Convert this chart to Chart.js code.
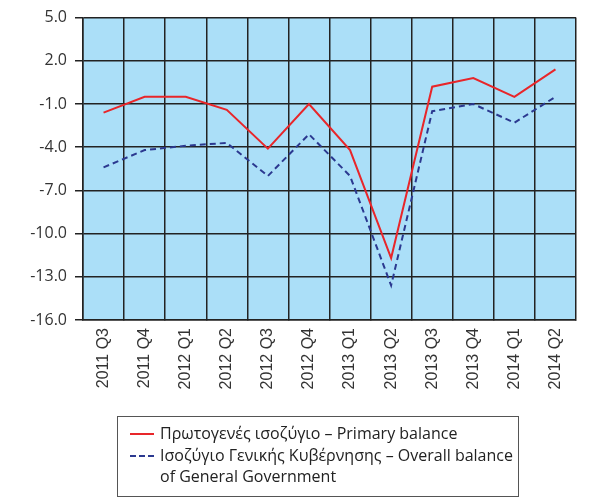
<!DOCTYPE html>
<html>
<head>
<meta charset="utf-8">
<script src="https://cdn.jsdelivr.net/npm/chart.js@4"></script>
<style>
  html, body { margin: 0; padding: 0; background: #fff; }
  #wrap { position: relative; width: 605px; height: 502px; }
  #legend {
    position: absolute; left: 117px; top: 416px; width: 402px; height: 81px;
    border: 1.5px solid #555; box-sizing: border-box;
    font-family: "Open Sans", sans-serif; font-size: 16px; color: #222; line-height: 21.5px;
    padding: 6px 0 0 0;
  }
  .row { position: relative; padding-left: 42px; }
  .swatch { position: absolute; left: 12px; top: 10px; width: 24px; height: 0; }
</style>
</head>
<body>
<div id="wrap">
  <canvas id="chart" width="605" height="502"></canvas>
  <div id="legend">
    <div class="row"><span class="swatch" style="border-top:2px solid #E8262A"></span>Πρωτογενές ισοζύγιο – Primary balance</div>
    <div class="row"><span class="swatch" style="border-top:2px dashed #2B3990"></span>Ισοζύγιο Γενικής Κυβέρνησης – Overall balance<br>of General Government</div>
  </div>
</div>
<script>
const quarters = ["2011 Q3", "2011 Q4", "2012 Q1", "2012 Q2", "2012 Q3", "2012 Q4",
  "2013 Q1", "2013 Q2", "2013 Q3", "2013 Q4", "2014 Q1", "2014 Q2"];
const primaryBalance = [-1.6, -0.5, -0.5, -1.4, -4.1, -1.0, -4.2, -11.7, 0.2, 0.8, -0.5, 1.4];
const overallBalance = [-5.4, -4.2, -3.9, -3.7, -6.0, -3.1, -6.0, -13.6, -1.5, -1.0, -2.3, -0.5];
const yTicks = [5, 2, -1, -4, -7, -10, -13, -16];

const plotBackground = {
  id: "plotBackground",
  beforeDraw(chart) {
    const { ctx, chartArea } = chart;
    ctx.save();
    ctx.fillStyle = "#ABDFF8";
    ctx.fillRect(chartArea.left, chartArea.top, chartArea.width, chartArea.height);
    ctx.restore();
  }
};

new Chart(document.getElementById("chart"), {
  type: "line",
  data: {
    labels: quarters,
    datasets: [
      {
        label: "Πρωτογενές ισοζύγιο – Primary balance",
        data: primaryBalance,
        borderColor: "#E8262A",
        borderWidth: 2,
        pointRadius: 0,
        tension: 0,
        fill: false
      },
      {
        label: "Ισοζύγιο Γενικής Κυβέρνησης – Overall balance of General Government",
        data: overallBalance,
        borderColor: "#2B3990",
        borderWidth: 2,
        borderDash: [6, 4],
        pointRadius: 0,
        tension: 0,
        fill: false
      }
    ]
  },
  options: {
    responsive: false,
    animation: false,
    layout: { padding: { top: 17, right: 29, left: 0, bottom: 0 } },
    plugins: {
      legend: { display: false },
      tooltip: { enabled: false }
    },
    scales: {
      x: {
        offset: true,
        grid: { offset: true, color: "#222", lineWidth: 1.5, tickLength: 0 },
        border: { color: "#222", width: 1.5 },
        ticks: {
          maxRotation: 90, minRotation: 90, padding: 8,
          color: "#333", font: { family: "Liberation Sans", size: 16 }
        },
        afterFit(scale) { scale.height = 182; }
      },
      y: {
        min: -16,
        max: 5,
        afterBuildTicks(scale) { scale.ticks = yTicks.map((v) => ({ value: v })); },
        grid: { color: "#222", lineWidth: 1.5, tickLength: 8 },
        border: { color: "#222", width: 1.5 },
        ticks: {
          padding: 8, color: "#333", font: { family: "Open Sans", size: 16 },
          callback: (v) => v.toFixed(1)
        },
        afterFit(scale) { scale.width = 83; }
      }
    }
  },
  plugins: [plotBackground]
});
</script>
</body>
</html>
